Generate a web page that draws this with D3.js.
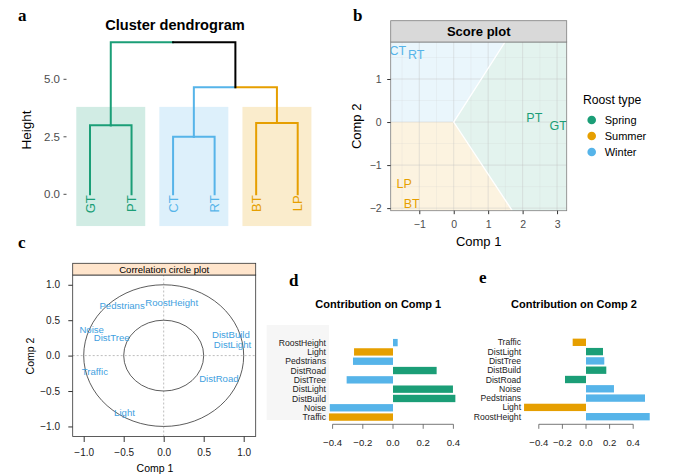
<!DOCTYPE html>
<html><head><meta charset="utf-8">
<script src="https://cdn.jsdelivr.net/npm/d3@7"></script>
<style>body{margin:0;background:#fff}svg{font-family:"Liberation Sans",Arial,Helvetica,sans-serif}</style>
</head><body><svg id="c" width="676" height="476"></svg>
<script>
// ---------------- DATA ----------------
const roostTypes = ["Spring", "Summer", "Winter"];
const roostColors = ["#1B9E77", "#E69F00", "#56B4E9"];

// (a) dendrogram
const leafNames = ["GT", "PT", "CT", "RT", "BT", "LP"];
const leafTypes = ["Spring", "Spring", "Winter", "Winter", "Summer", "Summer"];
const mergeNames = ["GT+PT", "CT+RT", "BT+LP", "CT+RT+BT+LP", "all"];
const mergeLeft = ["GT", "CT", "BT", "CT+RT", "GT+PT"];
const mergeRight = ["PT", "RT", "LP", "BT+LP", "CT+RT+BT+LP"];
const mergeHeights = [3.0, 2.5, 3.1, 4.65, 6.61];
const heightTicks = [0, 2.5, 5];

// (b) score plot
const scoreNames = ["CT", "RT", "PT", "GT", "LP", "BT"];
const scoreTypes = ["Winter", "Winter", "Spring", "Spring", "Summer", "Summer"];
const scoreComp1 = [-1.62, -1.09, 2.34, 3.03, -1.44, -1.22];
const scoreComp2 = [1.67, 1.57, 0.11, -0.08, -1.42, -1.90];
const regionWinter = [[-1.83, 0], [0, 0], [1.49, 1.86], [-1.83, 1.86]];
const regionSummer = [[-1.83, 0], [0, 0], [1.70, -2.06], [-1.83, -2.06]];
const regionSpring = [[0, 0], [1.49, 1.86], [3.28, 1.86], [3.28, -2.06], [1.70, -2.06]];
const scoreTicksX = [-1, 0, 1, 2, 3];
const scoreTicksY = [-2, -1, 0, 1];

// (c) correlation circle
const corrVars = ["Pedstrians", "RoostHeight", "Noise", "DistTree", "DistBuild", "DistLight", "Traffic", "DistRoad", "Light"];
const corrComp1 = [-0.52, 0.10, -0.90, -0.65, 0.84, 0.86, -0.86, 0.69, -0.49];
const corrComp2 = [0.70, 0.75, 0.37, 0.26, 0.30, 0.16, -0.22, -0.32, -0.81];
const corrTicks = [-1.0, -0.5, 0.0, 0.5, 1.0];

// (d) contribution on Comp 1 (top to bottom)
const contrib1Vars = ["RoostHeight", "Light", "Pedstrians", "DistRoad", "DistTree", "DistLight", "DistBuild", "Noise", "Traffic"];
const contrib1Vals = [0.031, -0.258, -0.265, 0.289, -0.307, 0.397, 0.413, -0.419, -0.424];
const contrib1Types = ["Winter", "Summer", "Winter", "Spring", "Winter", "Spring", "Spring", "Winter", "Summer"];

// (e) contribution on Comp 2 (top to bottom)
const contrib2Vars = ["Traffic", "DistLight", "DistTree", "DistBuild", "DistRoad", "Noise", "Pedstrians", "Light", "RoostHeight"];
const contrib2Vals = [-0.113, 0.144, 0.155, 0.172, -0.178, 0.237, 0.500, -0.525, 0.540];
const contrib2Types = ["Summer", "Spring", "Winter", "Spring", "Spring", "Winter", "Winter", "Summer", "Winter"];
const contribTicks = [-0.4, -0.2, 0.0, 0.2, 0.4];

// ---------------- DRAW ----------------
const svg = d3.select("#c");
const col = d3.scaleOrdinal().domain(roostTypes).range(roostColors);
const fmt1 = d3.format(".1f");
const minus = s => s.replace("-", "\u2212");

function panelLetter(t, x, y) {
  svg.append("text").attr("x", x).attr("y", y).text(t)
    .attr("font-family", "'Liberation Serif','Times New Roman',serif")
    .attr("font-weight", "bold").attr("font-size", 17);
}

// ===== (a) dendrogram =====
(function () {
  const g = svg.append("g");
  const x = d3.scalePoint().domain(leafNames).range([90, 297.7]);
  const y = d3.scaleLinear().domain([0, 5]).range([194.3, 79.3]);
  const nodes = {};
  leafNames.forEach((n, i) => nodes[n] = { name: n, h: 0, type: leafTypes[i], x: x(n) });
  mergeNames.forEach((n, i) => {
    const l = nodes[mergeLeft[i]], r = nodes[mergeRight[i]];
    const node = { name: n, h: mergeHeights[i], children: [l, r],
      type: l.type === r.type ? l.type : null, x: (l.x + r.x) / 2 };
    l.parent = node; r.parent = node; nodes[n] = node;
  });
  const clusters = mergeNames.slice(0, 3).map(n => nodes[n]);
  const pad = x.step() * 0.33;
  g.selectAll("rect.cl").data(clusters).join("rect")
    .attr("x", d => d.children[0].x - pad)
    .attr("width", d => d.children[1].x - d.children[0].x + 2 * pad)
    .attr("y", y(3.8)).attr("height", y(-1.38) - y(3.8))
    .attr("fill", d => col(d.type)).attr("fill-opacity", 0.2);
  const all = Object.values(nodes).filter(n => n.parent);
  g.selectAll("path.br").data(all).join("path")
    .attr("d", d => `M${d.x},${y(d.h)}V${y(d.parent.h)}H${d.parent.x}`)
    .attr("fill", "none").attr("stroke-width", 2).attr("stroke-linecap", "square")
    .attr("stroke", d => d.type ? col(d.type) : "#000");
  g.selectAll("text.lf").data(leafNames).join("text")
    .attr("transform", (d) => `translate(${x(d)},${y(0) + 1}) rotate(-90)`)
    .attr("text-anchor", "end").attr("dy", "0.36em").attr("font-size", 13)
    .attr("fill", (d, i) => col(leafTypes[i])).text(d => d);
  g.selectAll("text.tk").data(heightTicks).join("text")
    .attr("x", 60).attr("y", d => y(d)).attr("dy", "0.36em").attr("text-anchor", "end")
    .attr("font-size", 11.5).attr("fill", "#4d4d4d").text(d => fmt1(d));
  g.selectAll("line.tk").data(heightTicks).join("line")
    .attr("x1", 63.5).attr("x2", 66.5).attr("y1", d => y(d)).attr("y2", d => y(d))
    .attr("stroke", "#4d4d4d").attr("stroke-width", 1);
  g.append("text").attr("transform", "translate(31,130) rotate(-90)").attr("text-anchor", "middle")
    .attr("font-size", 13.5).text("Height");
  g.append("text").attr("x", 175).attr("y", 30).attr("text-anchor", "middle")
    .attr("font-weight", "bold").attr("font-size", 14.6).text("Cluster dendrogram");
  panelLetter("a", 18, 21);
})();

// ===== (b) score plot =====
(function () {
  const g = svg.append("g");
  const x = d3.scaleLinear().domain([-1.83, 3.28]).range([390.7, 566.7]);
  const y = d3.scaleLinear().domain([-2.06, 1.86]).range([210.7, 42]);
  const line = d3.line().x(d => x(d[0])).y(d => y(d[1]));
  svg.append("clipPath").attr("id", "clipb").append("rect")
    .attr("x", x.range()[0]).attr("y", y.range()[1])
    .attr("width", x.range()[1] - x.range()[0]).attr("height", y.range()[0] - y.range()[1]);
  const inner = g.append("g").attr("clip-path", "url(#clipb)");
  const regions = [[regionWinter, "Winter"], [regionSummer, "Summer"], [regionSpring, "Spring"]];
  inner.selectAll("path.rg").data(regions).join("path")
    .attr("d", d => line(d[0]) + "Z").attr("fill", d => col(d[1])).attr("fill-opacity", 0.12);
  const minorX = [-1.5, -0.5, 0.5, 1.5, 2.5], minorY = [-1.5, -0.5, 0.5, 1.5];
  inner.selectAll("line.mx").data(minorX).join("line")
    .attr("x1", d => x(d)).attr("x2", d => x(d)).attr("y1", y.range()[0]).attr("y2", y.range()[1])
    .attr("stroke", "#c8c8c8").attr("stroke-opacity", 0.35).attr("stroke-width", 0.5);
  inner.selectAll("line.my").data(minorY).join("line")
    .attr("y1", d => y(d)).attr("y2", d => y(d)).attr("x1", x.range()[0]).attr("x2", x.range()[1])
    .attr("stroke", "#c8c8c8").attr("stroke-opacity", 0.35).attr("stroke-width", 0.5);
  inner.selectAll("line.gx").data(scoreTicksX).join("line")
    .attr("x1", d => x(d)).attr("x2", d => x(d)).attr("y1", y.range()[0]).attr("y2", y.range()[1])
    .attr("stroke", "#c0c0c0").attr("stroke-opacity", 0.5).attr("stroke-width", 0.8);
  inner.selectAll("line.gy").data(scoreTicksY).join("line")
    .attr("y1", d => y(d)).attr("y2", d => y(d)).attr("x1", x.range()[0]).attr("x2", x.range()[1])
    .attr("stroke", "#c0c0c0").attr("stroke-opacity", 0.5).attr("stroke-width", 0.8);
  inner.append("path").attr("d", line([regionSpring[1], regionSpring[0], regionSpring[4]]))
    .attr("fill", "none").attr("stroke", "#fff").attr("stroke-width", 1.3);
  inner.selectAll("text.pt").data(scoreNames).join("text")
    .attr("x", (d, i) => x(scoreComp1[i])).attr("y", (d, i) => y(scoreComp2[i]))
    .attr("text-anchor", "middle").attr("dy", "0.36em").attr("font-size", 12.5)
    .attr("fill", (d, i) => col(scoreTypes[i])).text(d => d);
  g.append("rect").attr("x", x.range()[0]).attr("y", y.range()[1])
    .attr("width", x.range()[1] - x.range()[0]).attr("height", y.range()[0] - y.range()[1])
    .attr("fill", "none").attr("stroke", "#7f7f7f").attr("stroke-width", 0.8);
  g.append("rect").attr("x", x.range()[0]).attr("y", 20.7)
    .attr("width", x.range()[1] - x.range()[0]).attr("height", 42 - 20.7)
    .attr("fill", "#d9d9d9").attr("stroke", "#7f7f7f").attr("stroke-width", 0.8);
  g.append("text").attr("x", (x.range()[0] + x.range()[1]) / 2).attr("y", 31.5).attr("dy", "0.36em")
    .attr("text-anchor", "middle").attr("font-weight", "bold").attr("font-size", 13).text("Score plot");
  const ax = g.append("g").attr("transform", `translate(0,${y.range()[0]})`)
    .call(d3.axisBottom(x).tickValues(scoreTicksX).tickSize(3.5).tickPadding(6).tickFormat(d => minus(String(d))));
  const ay = g.append("g").attr("transform", `translate(${x.range()[0]},0)`)
    .call(d3.axisLeft(y).tickValues(scoreTicksY).tickSize(3.5).tickPadding(5.5).tickFormat(d => minus(String(d))));
  [ax, ay].forEach(a => {
    a.select(".domain").remove();
    a.selectAll("line").attr("stroke", "#333");
    a.selectAll("text").attr("fill", "#4d4d4d").attr("font-size", 10.5).attr("font-family", null);
  });
  g.append("text").attr("x", (x.range()[0] + x.range()[1]) / 2).attr("y", 246)
    .attr("text-anchor", "middle").attr("font-size", 13).text("Comp 1");
  g.append("text").attr("transform", `translate(361,${(y.range()[0] + y.range()[1]) / 2}) rotate(-90)`)
    .attr("text-anchor", "middle").attr("font-size", 13).text("Comp 2");
  g.append("text").attr("x", 583).attr("y", 104).attr("font-size", 12.2).text("Roost type");
  const lg = g.selectAll("g.lg").data(roostTypes).join("g")
    .attr("transform", (d, i) => `translate(591.7,${120 + i * 16})`);
  lg.append("circle").attr("r", 4.3).attr("fill", d => col(d));
  lg.append("text").attr("x", 13).attr("dy", "0.36em").attr("font-size", 11).text(d => d);
  panelLetter("b", 353, 21);
})();

// ===== (c) correlation circle =====
(function () {
  const g = svg.append("g");
  const x = d3.scaleLinear().domain([-1.1375, 1.15]).range([72.7, 255.7]);
  const y = d3.scaleLinear().domain([-1.142, 1.138]).range([436.5, 275]);
  g.append("line").attr("x1", x(0)).attr("x2", x(0)).attr("y1", y.range()[0]).attr("y2", y.range()[1])
    .attr("stroke", "#bdbdbd").attr("stroke-dasharray", "2,2");
  g.append("line").attr("y1", y(0)).attr("y2", y(0)).attr("x1", x.range()[0]).attr("x2", x.range()[1])
    .attr("stroke", "#bdbdbd").attr("stroke-dasharray", "2,2");
  g.selectAll("ellipse").data([1, 0.5]).join("ellipse")
    .attr("cx", x(0)).attr("cy", y(0)).attr("rx", d => x(d) - x(0)).attr("ry", d => y(0) - y(d))
    .attr("fill", "none").attr("stroke", "#333").attr("stroke-width", 0.8);
  g.selectAll("text.v").data(corrVars).join("text")
    .attr("x", (d, i) => x(corrComp1[i])).attr("y", (d, i) => y(corrComp2[i]))
    .attr("text-anchor", "middle").attr("dy", "0.36em").attr("font-size", 9.6)
    .attr("fill", "#3f9fe0").text(d => d);
  g.append("rect").attr("x", x.range()[0]).attr("y", y.range()[1])
    .attr("width", x.range()[1] - x.range()[0]).attr("height", y.range()[0] - y.range()[1])
    .attr("fill", "none").attr("stroke", "#333").attr("stroke-width", 0.8);
  g.append("rect").attr("x", x.range()[0]).attr("y", 263.3)
    .attr("width", x.range()[1] - x.range()[0]).attr("height", 275 - 263.3)
    .attr("fill", "#FFE5CC").attr("stroke", "#333").attr("stroke-width", 0.8);
  g.append("text").attr("x", (x.range()[0] + x.range()[1]) / 2).attr("y", 269.2).attr("dy", "0.36em")
    .attr("text-anchor", "middle").attr("font-size", 9.6).text("Correlation circle plot");
  const ax = g.append("g").attr("transform", `translate(0,${y.range()[0]})`)
    .call(d3.axisBottom(x).tickValues(corrTicks).tickSize(5.5).tickPadding(6.5).tickFormat(d => minus(fmt1(d))));
  const ay = g.append("g").attr("transform", `translate(${x.range()[0]},0)`)
    .call(d3.axisLeft(y).tickValues(corrTicks).tickSize(4.4).tickPadding(8.3).tickFormat(d => minus(fmt1(d))));
  [ax, ay].forEach(a => {
    a.select(".domain").remove();
    a.selectAll("line").attr("stroke", "#333");
    a.selectAll("text").attr("fill", "#222").attr("font-size", 10).attr("font-family", null);
  });
  g.append("text").attr("x", 155).attr("y", 472).attr("text-anchor", "middle").attr("font-size", 10.5).text("Comp 1");
  g.append("text").attr("transform", "translate(34,356) rotate(-90)").attr("text-anchor", "middle")
    .attr("font-size", 10.5).text("Comp 2");
  panelLetter("c", 18, 248);
})();

// ===== (d), (e) contribution bar charts =====
function contribChart(vars, vals, types, zeroX, pxPerUnit, bandTop, bandBottom, title, titleX, shade) {
  const g = svg.append("g");
  const x = d3.scaleLinear().domain([0, 1]).range([zeroX, zeroX + pxPerUnit]);
  const y = d3.scaleBand().domain(vars).range([bandTop, bandBottom]).paddingInner(0.21).paddingOuter(0.1);
  const left = x(d3.min(vals));
  if (shade) {
    g.append("rect").attr("x", 266.7).attr("y", 325).attr("width", left - 266.7).attr("height", 95)
      .attr("fill", "#f6f6f6");
  }
  g.selectAll("rect.b").data(vars).join("rect")
    .attr("x", (d, i) => Math.min(x(0), x(vals[i])))
    .attr("width", (d, i) => Math.abs(x(vals[i]) - x(0)))
    .attr("y", d => y(d)).attr("height", y.bandwidth())
    .attr("fill", (d, i) => col(types[i]));
  g.selectAll("text.n").data(vars).join("text")
    .attr("x", left - 3).attr("y", d => y(d) + y.bandwidth() / 2).attr("dy", "0.36em")
    .attr("text-anchor", "end").attr("font-size", 8.6).attr("fill", "#222").text(d => d);
  const axisY = 424.3;
  g.append("line").attr("x1", x(contribTicks[0])).attr("x2", x(contribTicks[contribTicks.length - 1]))
    .attr("y1", axisY).attr("y2", axisY).attr("stroke", "#555").attr("stroke-width", 0.8);
  g.selectAll("line.t").data(contribTicks).join("line")
    .attr("x1", d => x(d)).attr("x2", d => x(d)).attr("y1", axisY).attr("y2", axisY + 4.5)
    .attr("stroke", "#555").attr("stroke-width", 0.8);
  g.selectAll("text.t").data(contribTicks).join("text")
    .attr("x", d => x(d)).attr("y", 446).attr("text-anchor", "middle").attr("font-size", 9.6)
    .attr("fill", "#222").text(d => minus(fmt1(d)));
  g.append("text").attr("x", titleX).attr("y", 308).attr("text-anchor", "middle")
    .attr("font-weight", "bold").attr("font-size", 11).text(title);
}
contribChart(contrib1Vars, contrib1Vals, contrib1Types, 393, 151, 338, 421.7, "Contribution on Comp 1", 378.3, true);
contribChart(contrib2Vars, contrib2Vals, contrib2Types, 586, 118, 337.7, 421.3, "Contribution on Comp 2", 574, false);
panelLetter("d", 289, 286);
panelLetter("e", 479, 283);
</script></body></html>
